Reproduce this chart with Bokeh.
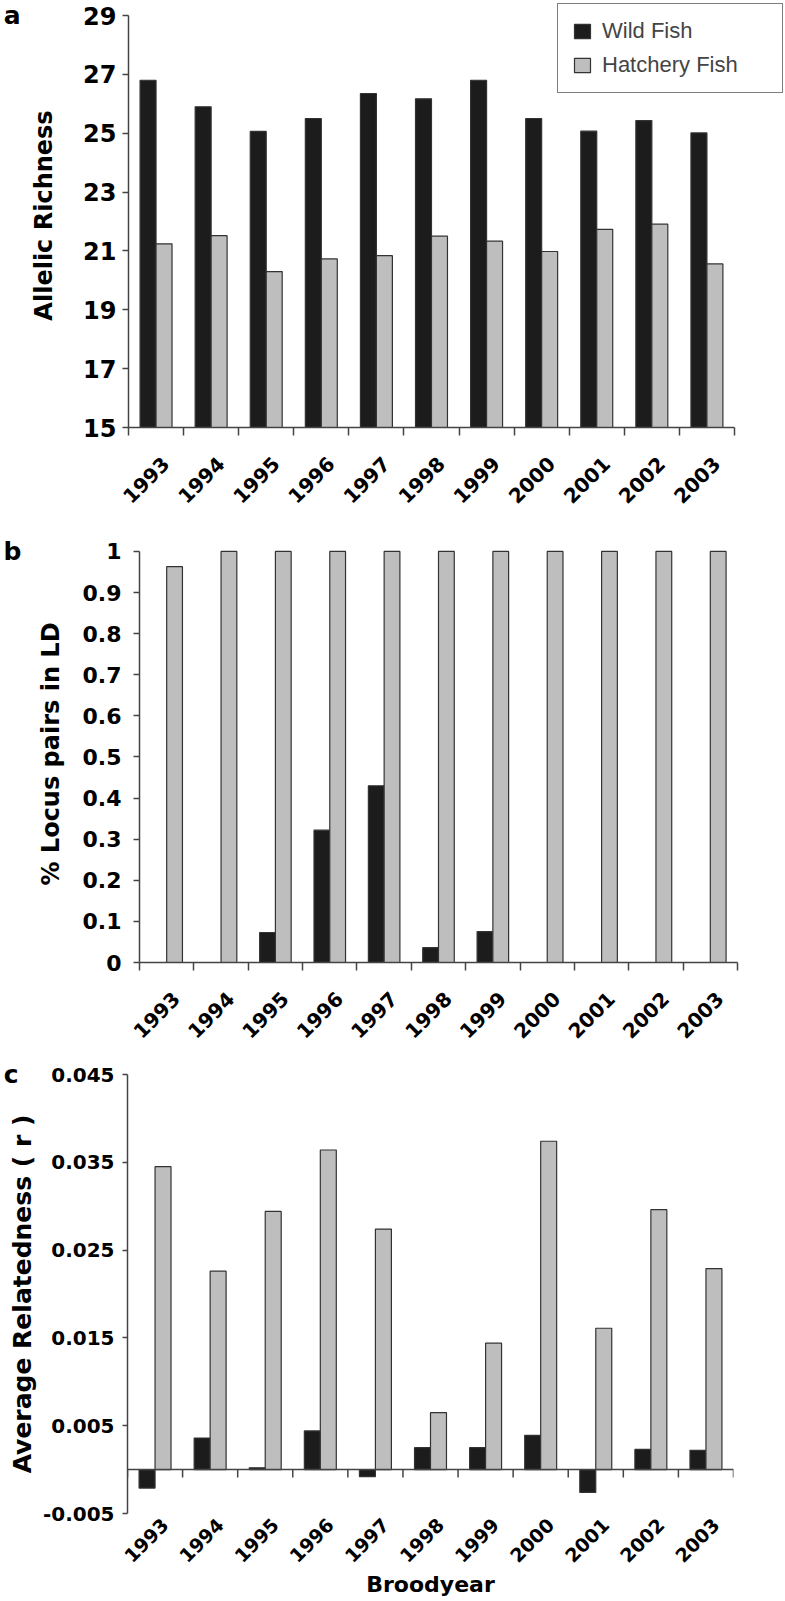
import numpy as np
from bokeh.plotting import figure
from bokeh.models import (FixedTicker, CustomJSTickFormatter, Legend, LegendItem,
                          LinearAxis, Span, ColumnDataSource, Range1d)
from bokeh.transform import dodge
from bokeh.layouts import column
from bokeh.embed import file_html
from bokeh.resources import INLINE

# ---------------- data ----------------
years = [1993, 1994, 1995, 1996, 1997, 1998, 1999, 2000, 2001, 2002, 2003]

allelic_wild = [26.80, 25.90, 25.06, 25.50, 26.35, 26.17, 26.80, 25.50, 25.07, 25.43, 25.01]
allelic_hatchery = [21.24, 21.52, 20.30, 20.73, 20.84, 21.50, 21.33, 20.98, 21.73, 21.91, 20.56]

ld_wild = [0.0, 0.0, 0.073, 0.322, 0.430, 0.036, 0.075, 0.0, 0.0, 0.0, 0.0]
ld_hatchery = [0.963, 1.0, 1.0, 1.0, 1.0, 1.0, 1.0, 1.0, 1.0, 1.0, 1.0]

rel_wild = [-0.0021, 0.0036, 0.0002, 0.0044, -0.0008, 0.0025, 0.0025, 0.0039, -0.0026, 0.0023, 0.0022]
rel_hatchery = [0.0345, 0.0226, 0.0294, 0.0364, 0.0274, 0.0065, 0.0144, 0.0374, 0.0161, 0.0296, 0.0229]

ticks_a = [15, 17, 19, 21, 23, 25, 27, 29]
ticks_b = [0, 0.1, 0.2, 0.3, 0.4, 0.5, 0.6, 0.7, 0.8, 0.9, 1.0]
ticks_c = [-0.005, 0.005, 0.015, 0.025, 0.035, 0.045]

series_names = ["Wild Fish", "Hatchery Fish"]
panel_letters = ["a", "b", "c"]

# ---------------- style ----------------
BOLD_FONT = "DejaVu Sans"
AXIS_COLOR = "#444444"
WILD_COLOR = "#1c1c1c"
HATCH_COLOR = "#bebebe"
EDGE_COLOR = "#333333"
BAR_W = 0.29
LABEL_SHIFT = 0.18

fmt = CustomJSTickFormatter(code="return String(Number(tick.toFixed(3)));")
year_fmt = CustomJSTickFormatter(code="return String(Math.round(tick));")

label_ticks = [y + LABEL_SHIFT for y in years]
bounds_ticks = [y - 0.5 for y in years] + [years[-1] + 0.5]


def base_fig(x_end, y_range, fw, fh, left, top, bottom, right=0):
    p = figure(x_range=Range1d(years[0] - 0.5, x_end), y_range=y_range,
               frame_width=fw, frame_height=fh,
               min_border_left=left, min_border_right=right,
               min_border_top=top, min_border_bottom=bottom,
               output_backend="svg", toolbar_location=None)
    try:
        p.frame_align = False
    except Exception:
        pass
    p.outline_line_color = None
    p.xgrid.visible = False
    p.ygrid.visible = False
    p.background_fill_color = "white"
    for ax in (p.xaxis[0], p.yaxis[0]):
        ax.axis_line_color = AXIS_COLOR
        ax.axis_line_width = 1.5
        ax.major_tick_line_color = AXIS_COLOR
        ax.major_tick_line_width = 1.5
        ax.major_label_text_font = BOLD_FONT
        ax.major_label_text_font_style = "bold"
        ax.major_label_text_color = "black"
        ax.axis_label_text_font = BOLD_FONT
        ax.axis_label_text_font_style = "bold"
        ax.axis_label_text_font_size = "24px"
        ax.axis_label_text_color = "black"
    # y axis
    p.yaxis.major_tick_out = 6
    p.yaxis.major_tick_in = 0
    p.yaxis.minor_tick_line_color = None
    p.yaxis.major_label_text_font_size = "22px"
    p.yaxis.formatter = fmt
    # x axis
    p.xaxis.ticker = FixedTicker(ticks=label_ticks, minor_ticks=bounds_ticks)
    p.xaxis.formatter = year_fmt
    p.xaxis.major_label_orientation = np.pi / 4
    p.xaxis.major_label_text_font_size = "20px"
    p.xaxis.major_tick_out = 0
    p.xaxis.major_tick_in = 0
    p.xaxis.minor_tick_out = 8
    p.xaxis.minor_tick_in = 0
    p.xaxis.minor_tick_line_color = AXIS_COLOR
    p.xaxis.minor_tick_line_width = 1.5
    p.xaxis.major_label_standoff = 25
    p.xaxis.bounds = (years[0] - 0.5, years[-1] + 0.5)
    return p


def add_bars(p, wild, hatch, bottom):
    src = ColumnDataSource(dict(year=years, wild=wild, hatch=hatch))
    r1 = p.vbar(x=dodge("year", -BAR_W / 2), width=BAR_W, top="wild", bottom=bottom,
                source=src, fill_color=WILD_COLOR, line_color=EDGE_COLOR, line_width=1.2)
    r2 = p.vbar(x=dodge("year", BAR_W / 2), width=BAR_W, top="hatch", bottom=bottom,
                source=src, fill_color=HATCH_COLOR, line_color=EDGE_COLOR, line_width=1.2)
    return r1, r2


def letter_axis(p, letter, at, standoff):
    # panel letter drawn as the single label of an extra, line-less left axis
    ax = LinearAxis(ticker=FixedTicker(ticks=[at]),
                    formatter=CustomJSTickFormatter(code="return '%s';" % letter),
                    axis_line_color=None, major_tick_line_color=None,
                    minor_tick_line_color=None, major_tick_out=0, major_tick_in=0,
                    major_label_standoff=standoff,
                    major_label_text_font=BOLD_FONT,
                    major_label_text_font_style="bold",
                    major_label_text_font_size="25px",
                    major_label_text_color="black")
    p.add_layout(ax, "left")


# ---------------- panel a ----------------
pa = base_fig(2004.39, Range1d(ticks_a[0], 29.408), 655, 424, 121, 3, 103)
pa.yaxis.ticker = FixedTicker(ticks=ticks_a)
pa.yaxis.bounds = (ticks_a[0], ticks_a[-1])
pa.yaxis.major_label_text_font_size = "24px"
pa.yaxis.major_label_standoff = 6
pa.yaxis.axis_label = "Allelic Richness"
pa.yaxis.axis_label_standoff = 22
ra1, ra2 = add_bars(pa, allelic_wild, allelic_hatchery, ticks_a[0])
legend = Legend(items=[LegendItem(label=series_names[0], renderers=[ra1]),
                       LegendItem(label=series_names[1], renderers=[ra2])],
                location="top_right")
legend.margin = 0
legend.padding = 14
legend.spacing = 8
legend.glyph_width = 20
legend.glyph_height = 18
legend.label_standoff = 10
legend.label_width = 166
legend.label_height = 22
legend.label_text_font = "Liberation Sans"
legend.label_text_font_size = "22px"
legend.border_line_color = "black"
legend.border_line_width = 1.5
legend.background_fill_alpha = 1.0
pa.add_layout(legend)
letter_axis(pa, panel_letters[0], ticks_a[-1], 7)

# ---------------- panel b ----------------
pb = base_fig(years[-1] + 0.5, Range1d(0, 1.0144), 598, 417, 132, 15, 94, 20)
pb.yaxis.ticker = FixedTicker(ticks=ticks_b)
pb.yaxis.major_label_standoff = 12
pb.yaxis.axis_label = "% Locus pairs in LD"
pb.yaxis.axis_label_standoff = 15
pb.yaxis.bounds = (ticks_b[0], ticks_b[-1])
add_bars(pb, ld_wild, ld_hatchery, 0)
letter_axis(pb, panel_letters[1], ticks_b[-1], 12)

# ---------------- panel c ----------------
pc = base_fig(years[-1] + 0.5, Range1d(ticks_c[0], ticks_c[-1]), 606, 439, 120, 18, 74, 20)
pc.yaxis.ticker = FixedTicker(ticks=ticks_c)
pc.yaxis.major_tick_out = 5
pc.yaxis.major_label_standoff = 8
pc.yaxis.major_label_text_font_size = "20px"
pc.yaxis.axis_label = "Average Relatedness ( r )"
pc.yaxis.axis_label_text_font_size = "25px"
pc.yaxis.axis_label_standoff = 3
pc.xaxis.axis_line_color = None
pc.xaxis.minor_tick_line_color = None
pc.xaxis.major_label_text_font_size = "19px"
pc.xaxis.major_label_standoff = 0
pc.xaxis.axis_label = "Broodyear"
pc.xaxis.axis_label_text_font_size = "22px"
pc.xaxis.axis_label_standoff = 0
add_bars(pc, rel_wild, rel_hatchery, 0)
pc.add_layout(Span(location=0, dimension="width", line_color=AXIS_COLOR, line_width=1.5))
tick_len = 8 * (ticks_c[-1] - ticks_c[0]) / 439
pc.segment(x0=bounds_ticks, x1=bounds_ticks, y0=[0] * len(bounds_ticks),
           y1=[-tick_len] * len(bounds_ticks), line_color=AXIS_COLOR, line_width=1.5)
letter_axis(pc, panel_letters[2], ticks_c[-1], -14)

layout = column(pa, pb, pc, spacing=0)
open("out.html", "w").write(file_html(layout, INLINE))
